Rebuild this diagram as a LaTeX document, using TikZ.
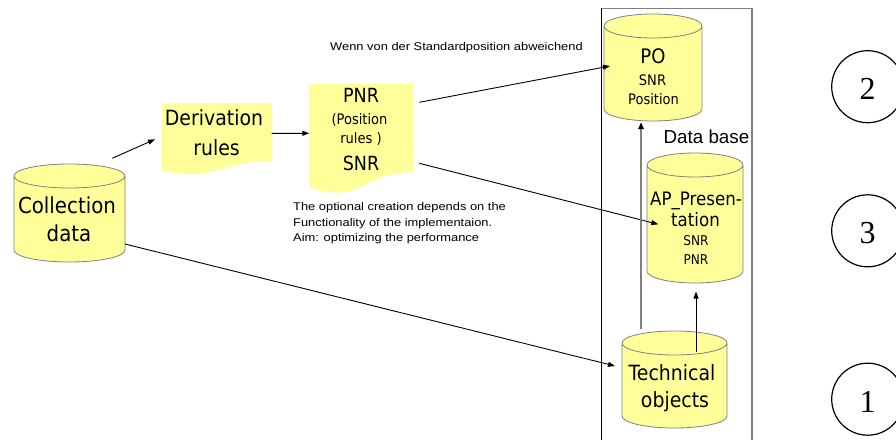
\documentclass[tikz,border=0pt]{standalone}
\usepackage{fontspec}
\usetikzlibrary{arrows.meta,calc,backgrounds}
\newfontfamily\tah[FakeStretch=0.9]{DejaVu Sans}
\newfontfamily\ari{Liberation Sans}
\newfontfamily\annf[FakeStretch=1.15]{Liberation Sans}
\newfontfamily\tms{Liberation Serif}
\definecolor{shapeyellow}{RGB}{255,255,153}
\definecolor{rimgray}{RGB}{128,128,128}
\newcommand\fs[1]{\fontsize{#1}{#1}\selectfont}
\tikzset{
  geo/.style={draw=none,inner sep=0pt,outer sep=0pt},
  cylpaint/.style={fill=shapeyellow,draw=rimgray,line width=0.8pt},
  docpaint/.style={fill=shapeyellow,draw=none},
  txt/.style={inner sep=0pt,anchor=base,font=\tah},
  ann/.style={inner sep=0pt,anchor=base west,font=\annf\fs{11.2}},
  arr/.style={-{Triangle[length=7pt,width=5pt]},line width=0.9pt,black},
  grayarr/.style={-{Triangle[length=7pt,width=5.5pt,color=black]},line width=1.8pt,draw=rimgray},
  numcirc/.style={circle,draw=black,line width=1.2pt,minimum size=72pt,inner sep=0pt,
    font=\tms\fs{32},text height=26pt,text depth=0pt},
}
\newcommand\cylbg[1]{%
  \path let \p1=(#1.north west), \p2=(#1.south east), \n1={(\x2-\x1)/2} in
    [cylpaint] (\x1,\y1-12pt) -- (\x1,\y2+12pt)
      arc[start angle=180,end angle=360,x radius=\n1,y radius=12pt]
      -- (\x2,\y1-12pt)
      arc[start angle=0,end angle=180,x radius=\n1,y radius=12pt] -- cycle
    ({\x1+\n1},\y1-12pt) ellipse[x radius=\n1,y radius=12pt];}
\newcommand\docbg[1]{%
  \path let \p1=(#1.north west), \p2=(#1.south east),
    \n1={\x2-\x1}, \n2={\y1-\y2} in
    [docpaint] (\x1,\y1) -- (\x2,\y1) -- (\x2,{\y1-0.802*\n2})
      .. controls ({\x1+0.5*\n1},{\y1-0.802*\n2}) and ({\x1+0.5*\n1},{\y1-1.107*\n2}) ..
      (\x1,{\y1-0.934*\n2}) -- cycle;}
\begin{document}
\begin{tikzpicture}[x=1pt,y=-1pt]
\useasboundingbox (0,0) rectangle (896,439);

% geometry nodes
\node[geo,minimum width=111pt,minimum height=98pt] (coll) at (69.5,213) {};
\node[geo,minimum width=110pt,minimum height=72.3pt] (deriv) at (217,139.15) {};
\node[geo,minimum width=104pt,minimum height=110pt] (pnr) at (361,139) {};
\node[geo,minimum width=98pt,minimum height=107pt] (po) at (653,67.5) {};
\node[geo,minimum width=96pt,minimum height=130pt] (ap) at (695,218) {};
\node[geo,minimum width=105pt,minimum height=97pt] (tech) at (674.5,379.5) {};

\begin{scope}[on background layer]
  \fill[white] (0,0) rectangle (896,439);
  % frame of the data base
  \draw[line width=0.9pt,rimgray] (601.5,8.3) -- (752,8.3);
  \draw[line width=0.9pt,black] (601.5,8.3) -- (601.5,445);
  \draw[line width=2pt,rimgray] (752,7.5) -- (752,445);
  \cylbg{coll}
  \docbg{deriv}
  \docbg{pnr}
  \cylbg{po}
  \cylbg{ap}
  \cylbg{tech}
\end{scope}

% texts
\node[txt] (coll1) at (67,213.3) {\fs{22}Collection};
\node[txt] (coll2) at (69,241.7) {\fs{22}data};
\node[txt] (der1) at (214,125) {\fs{21}Derivation};
\node[txt] (der2) at (216.5,155) {\fs{21}rules};
\node[txt] (pnr1) at (361,102.3) {\fs{19.5}PNR};
\node[txt] (pnr2) at (359.5,124.3) {\fs{14.5}(Position};
\node[txt] (pnr3) at (361,143.3) {\fs{14.5}rules )};
\node[txt] (pnr4) at (361,170) {\fs{19.5}SNR};
\node[txt] (po1) at (653,63.3) {\fs{20}PO};
\node[txt] (po2) at (652.5,85) {\fs{14.5}SNR};
\node[txt] (po3) at (653.5,104.3) {\fs{14.5}Position};
\node[txt] (ap1) at (696,205) {\fs{18.5}AP\_Presen-};
\node[txt] (ap2) at (695.5,226) {\fs{18.5}tation};
\node[txt] (ap3) at (696,245) {\fs{13.5}SNR};
\node[txt] (ap4) at (696,264.3) {\fs{13.5}PNR};
\node[txt] (tech1) at (672,380) {\fs{21}Technical};
\node[txt] (tech2) at (675,407.3) {\fs{21}objects};
\node[inner sep=0pt,anchor=base east,font=\ari\fs{18.8}] (dbase) at (749.5,143.3) {Data base};

\node[ann] (wenn) at (330,50.7) {Wenn von der Standardposition abweichend};
\node[ann] (opt1) at (293,210.7) {The optional creation depends on the};
\node[ann] (opt2) at (293,226) {Functionality of the implementaion.};
\node[ann] (opt3) at (293,241.3) {Aim: optimizing the performance};

% numbered circles
\node[numcirc] (c2) at (867.7,86.7) {2};
\node[numcirc] (c3) at (867.7,230.8) {3};
\node[numcirc] (c1) at (867.7,399.2) {1};

% connectors
\draw[arr] ($(coll.north)+(42.8,-5.7)$) -- ($(deriv.west)+(-7,0.15)$);
\draw[arr] ($(deriv.east)+(-0.3,-5.85)$) -- ($(pnr.west)+(0.3,-5.7)$);
\draw[arr] ($(pnr.east)+(6.3,-36.7)$) -- ($(po.west)+(6,-1.5)$);
\draw[arr] ($(pnr.east)+(6.3,24.3)$) -- ($(ap.west)+(11.3,6.3)$);
\draw[arr] ($(coll.east)+(0,31)$) -- ($(tech.west)+(-7,-13.5)$);
\draw[grayarr] ($(tech.north)+(-33.5,-1.7)$) -- ($(po.south)+(-12,1.2)$);
\draw[arr] ($(tech.north)+(21.5,20.7)$) -- ($(ap.south)+(1,8.5)$);
\end{tikzpicture}
\end{document}
